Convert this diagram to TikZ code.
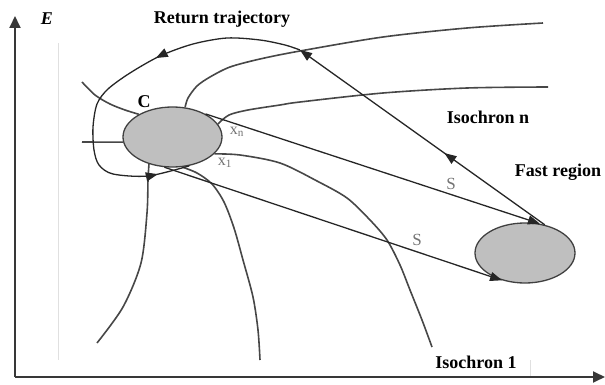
\documentclass[tikz,border=0pt]{standalone}
\usepackage{fontspec}
\setmainfont{Liberation Serif}
\usetikzlibrary{shapes.geometric,arrows.meta,decorations.markings}

\begin{document}
\begin{tikzpicture}[x=1pt,y=-1pt,
  headtip/.style={-{Triangle[length=12pt,width=9pt]}},
  axisline/.style={draw=black!78, line width=1.8pt, -{Triangle[length=12pt,width=11pt]}},
  region/.style={ellipse, draw=black!75, line width=1.3pt, fill=black!25, inner sep=0pt},
  isochron/.style={draw=black!72, line width=1.6pt},
  flow/.style={draw=black!85, line width=1.3pt},
  faint/.style={draw=black!12, line width=0.8pt},
  bigtext/.style={font=\fontsize{18}{20}\selectfont\bfseries},
  graytext/.style={text=black!55, font=\fontsize{16}{18}\selectfont},
]
\useasboundingbox (0,0) rectangle (605,385);

% faint guide lines
\draw[faint] (58,43) -- (58,360);
\draw[faint] (530,360) -- (530,377);

% axes
\coordinate (O) at (15,377);
\coordinate (Etop) at (15,16);
\coordinate (Tend) at (605,377);
\draw[axisline] (O) -- (Etop);
\draw[axisline] (O) -- (Tend);
\node[font=\fontsize{18}{20}\selectfont\bfseries\itshape] (Elab) at (47,19) {E};

% regions
\node[region, minimum width=99pt, minimum height=60pt] (C) at (172.5,137) {};
\node[region, minimum width=100pt, minimum height=60pt] (F) at (525,253) {};

% isochrons
\draw[isochron] plot[smooth] coordinates {(C.67) (188,98) (197,86) (210,77) (230,67) (260,59) (300,51) (383,37) (467,28) (543,23)};
\draw[isochron] plot[smooth] coordinates {(C.16) (229,115) (248,110) (280,105) (300,102) (383,93) (467,88) (548,87)};
\draw[isochron] plot[smooth] coordinates {(82,82) (95,95) (110,104) (125,110) (C.146)};
\draw[isochron] (82,142) -- (C.186);
\draw[isochron] plot[smooth] coordinates {(C.338) (240,155) (280,163) (317,181) (347,198) (370,220) (387,240) (400,265) (410,290) (422,320) (432,347)};
\draw[isochron] plot[smooth] coordinates {(C.229) (148,180) (147,213) (141,263) (123,307) (97,343)};
\draw[isochron] plot[smooth] coordinates {(C.288) (197,173) (212,184) (224,202) (234,228) (243,260) (253,297) (258,330) (260,360)};

% trajectories from C to the fast region
\draw[flow, headtip] (C.35) -- (F.63);
\draw[flow, headtip] (C.255) -- (F.230);

% return trajectory
\coordinate (R) at (300,50);
\draw[flow, headtip, postaction={decorate},
  decoration={markings, mark=at position 0.41 with {\arrow{Triangle[length=12pt,width=9pt]}}}]
  (F.55) -- (R);
\draw[flow, postaction={decorate},
  decoration={markings,
    mark=at position 0.39 with {\arrow{Triangle[length=12pt,width=9pt]}},
    mark=at position 0.915 with {\arrow{Triangle[length=12pt,width=9pt]}}}]
  plot[smooth] coordinates {(R) (285,45) (260,40) (227,38) (193,44) (160,56) (130,73) (108,89) (97,104) (93,127) (94,150) (99,165) (113,174) (148,176) (C.300)};

% labels
\node[bigtext] (ret) at (222,19) {Return trajectory};
\node[bigtext] (isn) at (488,117) {Isochron n};
\node[bigtext] (fast) at (558,172) {Fast region};
\node[bigtext] (is1) at (476,362) {Isochron 1};
\node[bigtext] (Clab) at (144,102) {C};
\node[graytext] (xn) at (237,132) {x\textsubscript{n}};
\node[graytext] (x1) at (225,163) {x\textsubscript{1}};
\node[graytext, font=\fontsize{17}{19}\selectfont] (s1) at (451,184) {S};
\node[graytext, font=\fontsize{17}{19}\selectfont] (s2) at (417,240) {S};
\end{tikzpicture}
\end{document}
